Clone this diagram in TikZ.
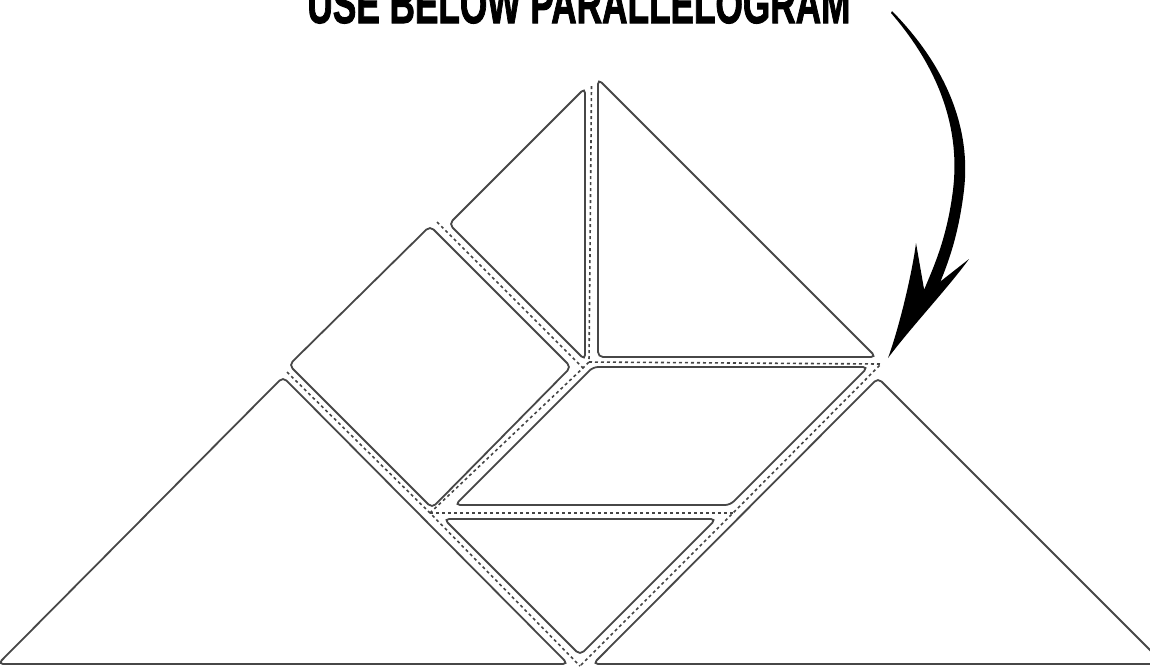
\documentclass[tikz,border=0pt]{standalone}
\usepackage{fontspec}
\usepackage{graphicx}
\setmainfont{Liberation Sans}
\newfontfamily\titlefont[BoldFeatures={FakeBold=2}]{Liberation Sans}
\usetikzlibrary{arrows.meta}
\definecolor{piece}{HTML}{474747}
\definecolor{cutline}{HTML}{444444}
\definecolor{ink}{HTML}{000000}

\begin{document}
\begin{tikzpicture}[
    x=0.5pt, y=-0.5pt,
    tile/.style={draw=piece, line width=0.9pt, rounded corners=2.5pt, fill=white},
    cut/.style={draw=cutline, line width=0.8pt, dash pattern=on 1.5pt off 1.5pt},
    heading/.style={inner sep=0pt, anchor=base west, font=\titlefont\bfseries},
]
    \useasboundingbox (0,0) rectangle (1150,666);
    \clip (0,0) rectangle (1150,666);

    % Title
    \node[heading] (title) at (307,23) {\resizebox{271.5pt}{19pt}{USE BELOW PARALLELOGRAM}};

    % Cut lines
    \coordinate (top) at (591.5,86);
    \coordinate (mid) at (589,362);
    \coordinate (sqcut) at (583,368);
    \coordinate (rgt) at (881,364);
    \coordinate (bot) at (580,666);
    \coordinate (lft) at (287,372);
    \coordinate (lowl) at (430,513);
    \coordinate (lowr) at (733,513);
    \coordinate (sqtop) at (437,222);
    \draw[cut] (top) -- (mid) -- (rgt) -- (lowr) -- (bot);
    \draw[cut] (lft) -- (lowl) -- (bot);
    \draw[cut] (lowl) -- (lowr);
    \draw[cut] (lowl) -- (sqcut) -- (mid);
    \draw[cut] (sqtop) -- (sqcut);

    % Pieces
    \draw[tile] (-2,664) -- (283,377) -- (568,664) -- cycle;
    \draw[tile] (593,664) -- (878,378) -- (1164,664) -- cycle;
    \draw[tile] (444,519) -- (716,519) -- (580,655) -- cycle;
    \draw[tile] (455,505) -- (593,367) -- (868,367) -- (730,505) -- cycle;
    \draw[tile] (289,365) -- (430,226) -- (571,367) -- (432,508) -- cycle;
    \draw[tile] (449,224) -- (585,88) -- (585,360) -- cycle;
    \draw[tile] (598,79) -- (598,357) -- (876,357) -- cycle;

    % Arrow
    \fill[ink] (892,11) .. controls (948,68) and (971,130) .. (964,190)
        .. controls (958,240) and (946,268) .. (937,290) -- (924,290)
        .. controls (934,266) and (947,238) .. (953,190)
        .. controls (960,132) and (942,72) .. (891,13) -- cycle;
    \fill[ink] (888,358) .. controls (899,328) and (912,274) .. (916,243)
        -- (924,289) -- (941,281) -- (969,259)
        .. controls (948,288) and (912,326) .. (888,358) -- cycle;
\end{tikzpicture}
\end{document}
